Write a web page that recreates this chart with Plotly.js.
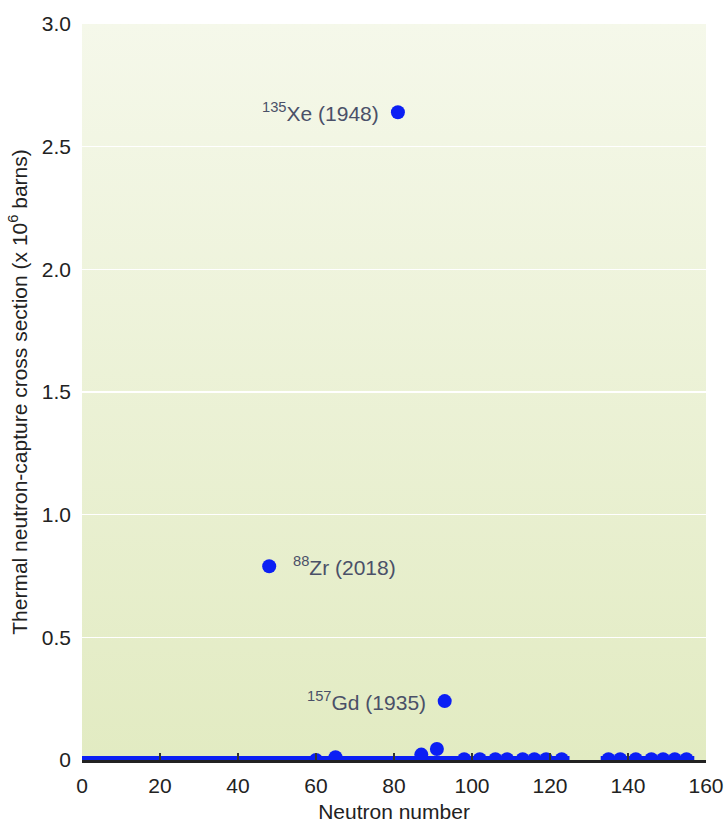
<!DOCTYPE html>
<html>
<head>
<meta charset="utf-8">
<script src="https://cdn.plot.ly/plotly-3.0.1.min.js"></script>
<style>html,body{margin:0;padding:0;background:#fff;}#chart{width:724px;height:823px;}</style>
</head>
<body>
<div id="chart"></div>
<script>
// Neutron number of each nuclide and its thermal neutron-capture cross section (x 10^6 barns)
const neutronNumber = [48, 60, 65, 81, 87, 91, 93, 98, 102, 106, 109, 113, 116, 119, 123, 135, 138, 142, 146, 149, 152, 155];
const crossSection  = [0.79, 0.0, 0.011, 2.64, 0.022, 0.045, 0.24, 0.003, 0.003, 0.003, 0.003, 0.003, 0.003, 0.003, 0.003, 0.003, 0.003, 0.003, 0.003, 0.003, 0.003, 0.003];

// Ranges of neutron number where many nuclides have cross sections near zero
const nearZeroX = [0, 125, null, 133, 157];
const nearZeroY = [0, 0, null, 0, 0];

// Labelled nuclides
const labelText = ['<sup>135</sup>Xe (1948)', '<sup>88</sup>Zr (2018)', '<sup>157</sup>Gd (1935)'];
const labelN    = [81, 48, 93];
const labelY    = [2.64, 0.79, 0.24];
const labelSide = ['left', 'right', 'left'];

const yTickVals = [0, 0.5, 1.0, 1.5, 2.0, 2.5, 3.0];
const yTickText = ['0', '0.5', '1.0', '1.5', '2.0', '2.5', '3.0'];
const xTickVals = [0, 20, 40, 60, 80, 100, 120, 140, 160];

const blue = '#0b1ff4';
const font = 'Liberation Sans, Arial, Helvetica, sans-serif';

const traces = [
  {
    x: nearZeroX, y: nearZeroY, type: 'scatter', mode: 'lines',
    line: {color: blue, width: 8}, hoverinfo: 'skip', cliponaxis: true, showlegend: false
  },
  {
    x: neutronNumber, y: crossSection, type: 'scatter', mode: 'markers',
    marker: {color: blue, size: 14, line: {width: 0}}, cliponaxis: true, showlegend: false
  }
];

const annotations = labelText.map((t, i) => ({
  x: labelN[i], y: labelY[i], xref: 'x', yref: 'y', text: t, showarrow: false,
  xanchor: labelSide[i] === 'left' ? 'right' : 'left',
  yanchor: 'middle',
  xshift: labelSide[i] === 'left' ? -17 : 22,
  font: {family: font, size: 21, color: '#4a5068'}
}));

const grad = '<svg xmlns="http://www.w3.org/2000/svg" width="10" height="100" preserveAspectRatio="none">' +
  '<defs><linearGradient id="g" x1="0" y1="0" x2="0" y2="1">' +
  '<stop offset="0" stop-color="#f5f8ea"/><stop offset="1" stop-color="#e2ebc2"/>' +
  '</linearGradient></defs><rect width="10" height="100" fill="url(#g)"/></svg>';

const layout = {
  width: 724, height: 823,
  margin: {l: 82, r: 18, t: 24, b: 63},
  paper_bgcolor: '#ffffff',
  plot_bgcolor: 'rgba(0,0,0,0)',
  font: {family: font, size: 21, color: '#222222'},
  images: [{
    source: 'data:image/svg+xml;charset=utf-8,' + encodeURIComponent(grad),
    xref: 'paper', yref: 'paper', x: 0, y: 1, sizex: 1, sizey: 1,
    xanchor: 'left', yanchor: 'top', sizing: 'stretch', layer: 'below'
  }],
  xaxis: {
    range: [0, 160], tickvals: xTickVals, ticks: 'inside', ticklen: 7, tickwidth: 1.2, tickcolor: '#333333',
    showgrid: false, zeroline: false, showline: true, linecolor: '#222222', linewidth: 3,
    tickfont: {family: font, size: 21, color: '#222222'},
    ticklabelstandoff: 5,
    title: {text: 'Neutron number', font: {family: font, size: 21, color: '#222222'}, standoff: 10},
    fixedrange: true
  },
  yaxis: {
    range: [0, 3], tickvals: yTickVals, ticktext: yTickText, ticks: '',
    showgrid: true, gridcolor: '#ffffff', gridwidth: 1.5, zeroline: false, showline: false,
    tickfont: {family: font, size: 21, color: '#222222'},
    ticklabelstandoff: 10,
    title: {text: 'Thermal neutron-capture cross section (x 10<sup>6</sup> barns)', font: {family: font, size: 21, color: '#222222'}, standoff: 8},
    fixedrange: true
  },
  annotations: annotations,
  showlegend: false
};

Plotly.newPlot('chart', traces, layout, {displayModeBar: false, staticPlot: true});
</script>
</body>
</html>
